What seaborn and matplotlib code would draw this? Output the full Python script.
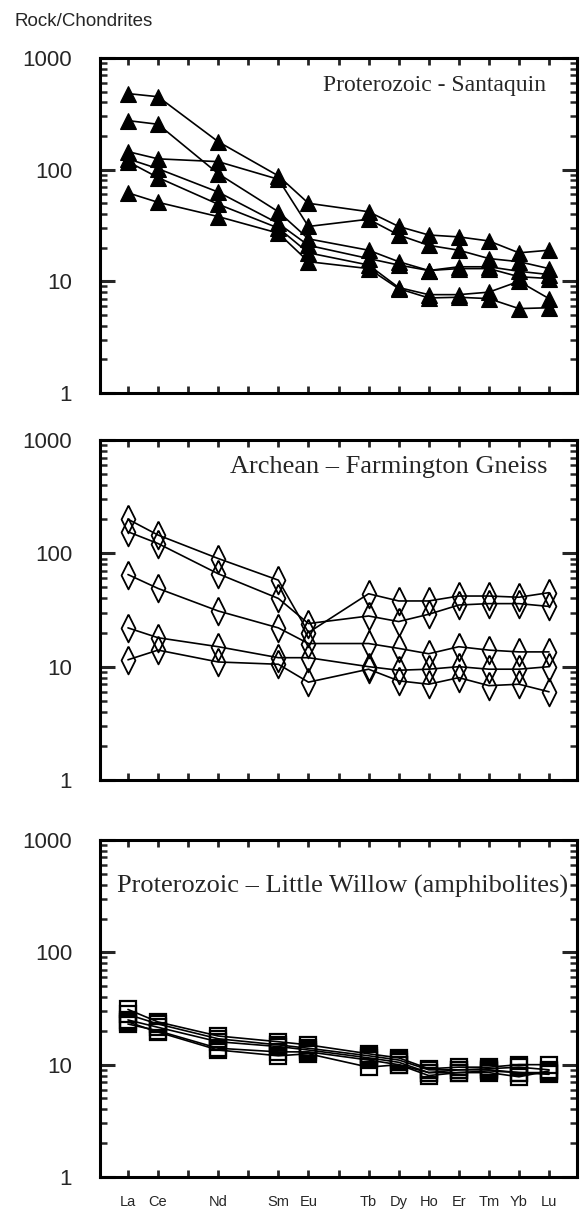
import numpy as np
import pandas as pd
import matplotlib
matplotlib.use("Agg")
import matplotlib.pyplot as plt
import seaborn as sns
from matplotlib.ticker import LogLocator, NullFormatter, FixedLocator, FixedFormatter

sns.set_style("white")
plt.rcParams["font.family"] = ["Liberation Sans", "DejaVu Sans"]

# ---------------- data ----------------
elements = ["La", "Ce", "Pr", "Nd", "Pm", "Sm", "Eu", "Gd", "Tb", "Dy", "Ho", "Er", "Tm", "Yb", "Lu"]
plotted = ["La", "Ce", "Nd", "Sm", "Eu", "Tb", "Dy", "Ho", "Er", "Tm", "Yb", "Lu"]
tick_labels = [e if e in plotted else "" for e in elements]
ytick_vals = [1, 10, 100, 1000]
ytick_labels = ["1", "10", "100", "1000"]

# Proterozoic - Santaquin (values for plotted elements)
santaquin_1 = [480, 450, 178, 88, 50, 42, 31, 26, 25, 23, 18, 19]
santaquin_2 = [145, 125, 118, 82, 31, 36, 26, 21, 19, 16, 15, 13]
santaquin_3 = [275, 255, 92, 42, 24, 19, 15, 12.5, 13.5, 13.5, 12.3, 11.5]
santaquin_4 = [125, 102, 63, 33, 21, 16, 14, 12.5, 13, 13, 11, 10.6]
santaquin_5 = [118, 85, 49, 30, 18, 14, 8.8, 7.6, 7.6, 8, 10, 7]
santaquin_6 = [62, 51, 38, 27, 15, 13, 8.6, 7.1, 7.2, 7, 5.7, 5.8]

# Archean - Farmington Gneiss
farmington_1 = [200, 145, 90, 58, 20, 44, 38, 38, 42, 42, 41, 45]
farmington_2 = [155, 122, 66, 40, 24, 28, 25, 29, 35, 36, 36, 34]
farmington_3 = [65, 49, 31, 22, 16, 16, 14.5, 13, 15, 14, 13.5, 13.5]
farmington_4 = [22, 18, 15, 12, 12, 10, 9.3, 9.5, 10, 9.5, 9.5, 10]
farmington_5 = [11.5, 14, 11, 10.5, 7.3, 9.5, 7.5, 7, 8, 6.8, 7, 6]

# Proterozoic - Little Willow (amphibolites)
willow_1 = [31, 24, 18, 16, 15, 12.5, 11.5, 9.2, 9.5, 9.5, 10, 10]
willow_2 = [28, 23, 17, 15, 14, 12, 11, 9, 9, 9.2, 9.5, 9]
willow_3 = [25, 21.5, 16, 14.5, 13.5, 11.5, 10.5, 8.5, 9, 9, 8.5, 8.5]
willow_4 = [23, 20, 14, 13, 13, 11, 10, 8.5, 8.5, 8.8, 8.5, 8.2]
willow_5 = [24, 19.5, 13.5, 12, 12.5, 9.5, 10, 8, 8.5, 8.5, 7.8, 8.8]

panels = [
    ("Proterozoic - Santaquin", [santaquin_1, santaquin_2, santaquin_3, santaquin_4, santaquin_5, santaquin_6]),
    ("Archean \u2013 Farmington Gneiss", [farmington_1, farmington_2, farmington_3, farmington_4, farmington_5]),
    ("Proterozoic \u2013 Little Willow (amphibolites)", [willow_1, willow_2, willow_3, willow_4, willow_5]),
]


def to_long(series_list):
    rows = []
    for i, s in enumerate(series_list):
        for el, v in zip(plotted, s):
            rows.append({"sample": i, "pos": elements.index(el) + 1, "value": v})
    return pd.DataFrame(rows)


diamond = [(0, 1), (0.5, 0), (0, -1), (-0.5, 0), (0, 1)]
marker_styles = [
    dict(marker="^", markersize=12, markerfacecolor="black", markeredgecolor="black", markeredgewidth=0.8),
    dict(marker=diamond, markersize=20, markerfacecolor="none", markeredgecolor="black", markeredgewidth=1.3),
    dict(marker="s", markersize=11, markerfacecolor="none", markeredgecolor="black", markeredgewidth=1.6),
]

# ---------------- figure ----------------
fig = plt.figure(figsize=(5.82, 12.15), dpi=100)
L, W = 100 / 582, 477 / 582
boxes = [(58, 393), (440, 780), (840, 1177)]
title_pos = [(546, 85), (547, 467), (568, 886)]
title_sizes = [17, 19, 19]

for k, ((title, series), (top, bot), mk) in enumerate(zip(panels, boxes, marker_styles)):
    ax = fig.add_axes([L, 1 - bot / 1215, W, (bot - top) / 1215])
    df = to_long(series)
    sns.lineplot(data=df, x="pos", y="value", units="sample", estimator=None,
                 color="black", linewidth=1.2, legend=False, ax=ax, **mk)
    ax.set_yscale("log")
    ax.set_ylim(1, 1000)
    ax.set_xlim(0.07, 15.93)
    ax.set_xlabel("")
    ax.set_ylabel("")

    ax.yaxis.set_major_locator(FixedLocator(ytick_vals))
    ax.yaxis.set_major_formatter(FixedFormatter(ytick_labels))
    ax.yaxis.set_minor_locator(LogLocator(base=10, subs=np.arange(2, 10)))
    ax.yaxis.set_minor_formatter(NullFormatter())
    ax.xaxis.set_major_locator(FixedLocator(range(1, 16)))
    if k == 2:
        ax.set_xticklabels(tick_labels)
    else:
        ax.set_xticklabels([""] * 15)

    ax.tick_params(axis="y", which="major", direction="in", length=11, width=2.2,
                   left=True, right=True, labelsize=16, pad=20)
    ax.tick_params(axis="y", which="minor", direction="in", length=5, width=1.8,
                   left=True, right=True)
    ax.tick_params(axis="x", which="major", direction="in", length=5, width=2.0,
                   bottom=True, top=True, labelsize=10.5, pad=13)
    for sp in ax.spines.values():
        sp.set_visible(True)
        sp.set_linewidth(2.2)
        sp.set_color("black")

    tx, ty = title_pos[k]
    fig.text(tx / 582, 1 - ty / 1215, title, ha="right", va="center",
             fontsize=title_sizes[k], family=["Liberation Serif", "DejaVu Serif"])

fig.text(15 / 582, 1 - 22 / 1215, "Rock/Chondrites", ha="left", va="center", fontsize=13.5)

fig.savefig("out.png", dpi=100, facecolor="white")
